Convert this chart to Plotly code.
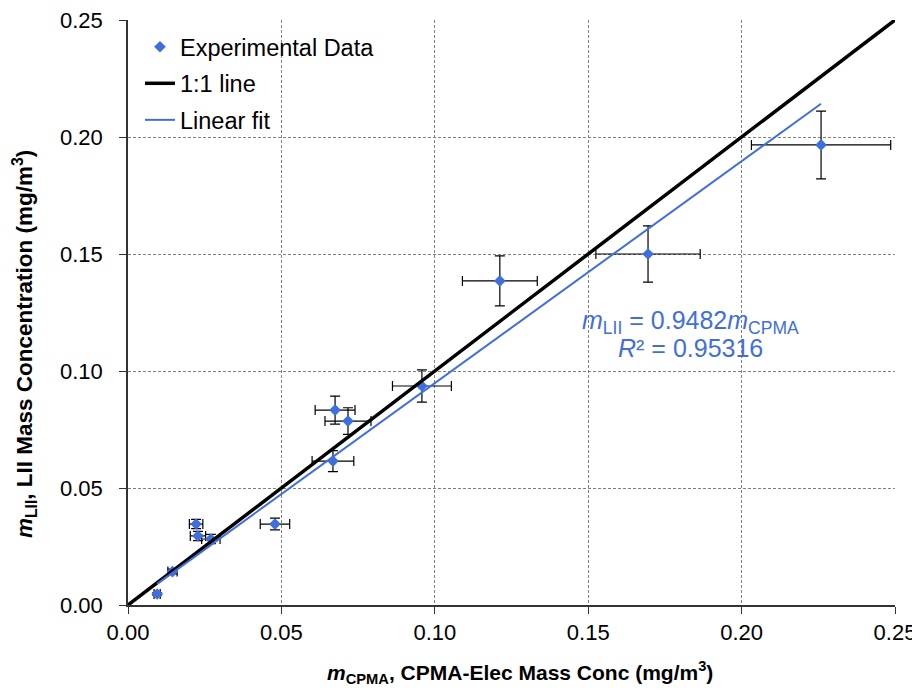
import plotly.graph_objects as go

# data
cpma_mass = [0.0095, 0.0145, 0.0222, 0.0228, 0.0270, 0.0479, 0.0675, 0.0717, 0.0668, 0.0958, 0.1212, 0.1695, 0.2259]
lii_mass = [0.0047, 0.0143, 0.0346, 0.0295, 0.0282, 0.0346, 0.0833, 0.0786, 0.0615, 0.0936, 0.1385, 0.1500, 0.1966]
cpma_err = [0.0010, 0.0015, 0.0022, 0.0025, 0.0030, 0.0048, 0.0065, 0.0075, 0.0068, 0.0096, 0.0122, 0.0170, 0.0227]
lii_err = [0.0005, 0.0010, 0.0020, 0.0020, 0.0020, 0.0025, 0.0060, 0.0057, 0.0045, 0.0069, 0.0107, 0.0120, 0.0145]

fit_slope = 0.9482
fit_r2 = 0.95316
one_to_one = [0.0, 0.25]

BLUE = "#3f6fdc"
FONT = "Liberation Sans, Arial, sans-serif"

fit_x = [min(cpma_mass), max(cpma_mass)]
fit_y = [fit_slope * v for v in fit_x]

fig = go.Figure()

fig.add_trace(go.Scatter(
    x=cpma_mass, y=lii_mass, mode="markers", name="Experimental Data", legendgroup="a",
    marker=dict(symbol="diamond", size=9, color=BLUE),
    error_x=dict(type="data", array=cpma_err, color="black", thickness=1.2, width=5),
    error_y=dict(type="data", array=lii_err, color="black", thickness=1.2, width=5),
))
fig.add_trace(go.Scatter(
    x=one_to_one, y=one_to_one, mode="lines", name="1:1 line", legendgroup="b",
    line=dict(color="black", width=3.5),
))
fig.add_trace(go.Scatter(
    x=fit_x, y=fit_y, mode="lines", name="Linear fit", legendgroup="c",
    line=dict(color=BLUE, width=2),
))

# fit equation, one annotation per line to keep the tight spacing
fig.add_annotation(
    x=0.1832, y=0.1209, xref="x", yref="y", xanchor="center", yanchor="middle",
    text=f"<i>m</i><sub>LII</sub> = {fit_slope}<i>m</i><sub>CPMA</sub>",
    showarrow=False, font=dict(family=FONT, size=25, color=BLUE),
)
fig.add_annotation(
    x=0.1835, y=0.1098, xref="x", yref="y", xanchor="center", yanchor="middle",
    text=f"<i>R</i>² = {fit_r2}",
    showarrow=False, font=dict(family=FONT, size=25, color=BLUE),
)

# axis titles as annotations so they sit where the reference has them
fig.add_annotation(
    x=0.511, y=-0.116, xref="paper", yref="paper", xanchor="center", yanchor="middle",
    text="<b><i>m</i><sub>CPMA</sub>, CPMA-Elec Mass Conc (mg/m<sup>3</sup>)</b>",
    showarrow=False, font=dict(family=FONT, size=21, color="black"),
)
fig.add_annotation(
    x=-0.1356, y=0.446, xref="paper", yref="paper", xanchor="center", yanchor="middle",
    text="<b><i>m</i><sub>LII</sub>, LII Mass Concentration (mg/m<sup>3</sup>)</b>",
    textangle=-90, showarrow=False, font=dict(family=FONT, size=22.5, color="black"),
)

axis_common = dict(
    range=[0, 0.25], dtick=0.05, tickformat=".2f", automargin=False,
    ticklabeloverflow="allow",
    showgrid=True, gridcolor="#808080", griddash="3px,2px", gridwidth=1,
    showline=True, linecolor="#333333", linewidth=1.5,
    ticks="outside", ticklen=7, tickcolor="#333333",
    tickfont=dict(family=FONT, size=22, color="black"),
    zeroline=False,
)

fig.update_xaxes(**axis_common)
fig.update_yaxes(**axis_common, ticklabelstandoff=12)

# page body has an 8px margin, so the figure is 16px smaller than the window
fig.update_layout(
    width=904, height=680,
    margin=dict(l=120, r=17, t=12, b=83),
    paper_bgcolor="white", plot_bgcolor="white",
    showlegend=True,
    legend=dict(x=0.0156, y=0.9915, xanchor="left", yanchor="top",
                bgcolor="rgba(0,0,0,0)", font=dict(family=FONT, size=23.5, color="black"),
                itemwidth=30, tracegroupgap=3),
)

fig.write_html("out.html")
